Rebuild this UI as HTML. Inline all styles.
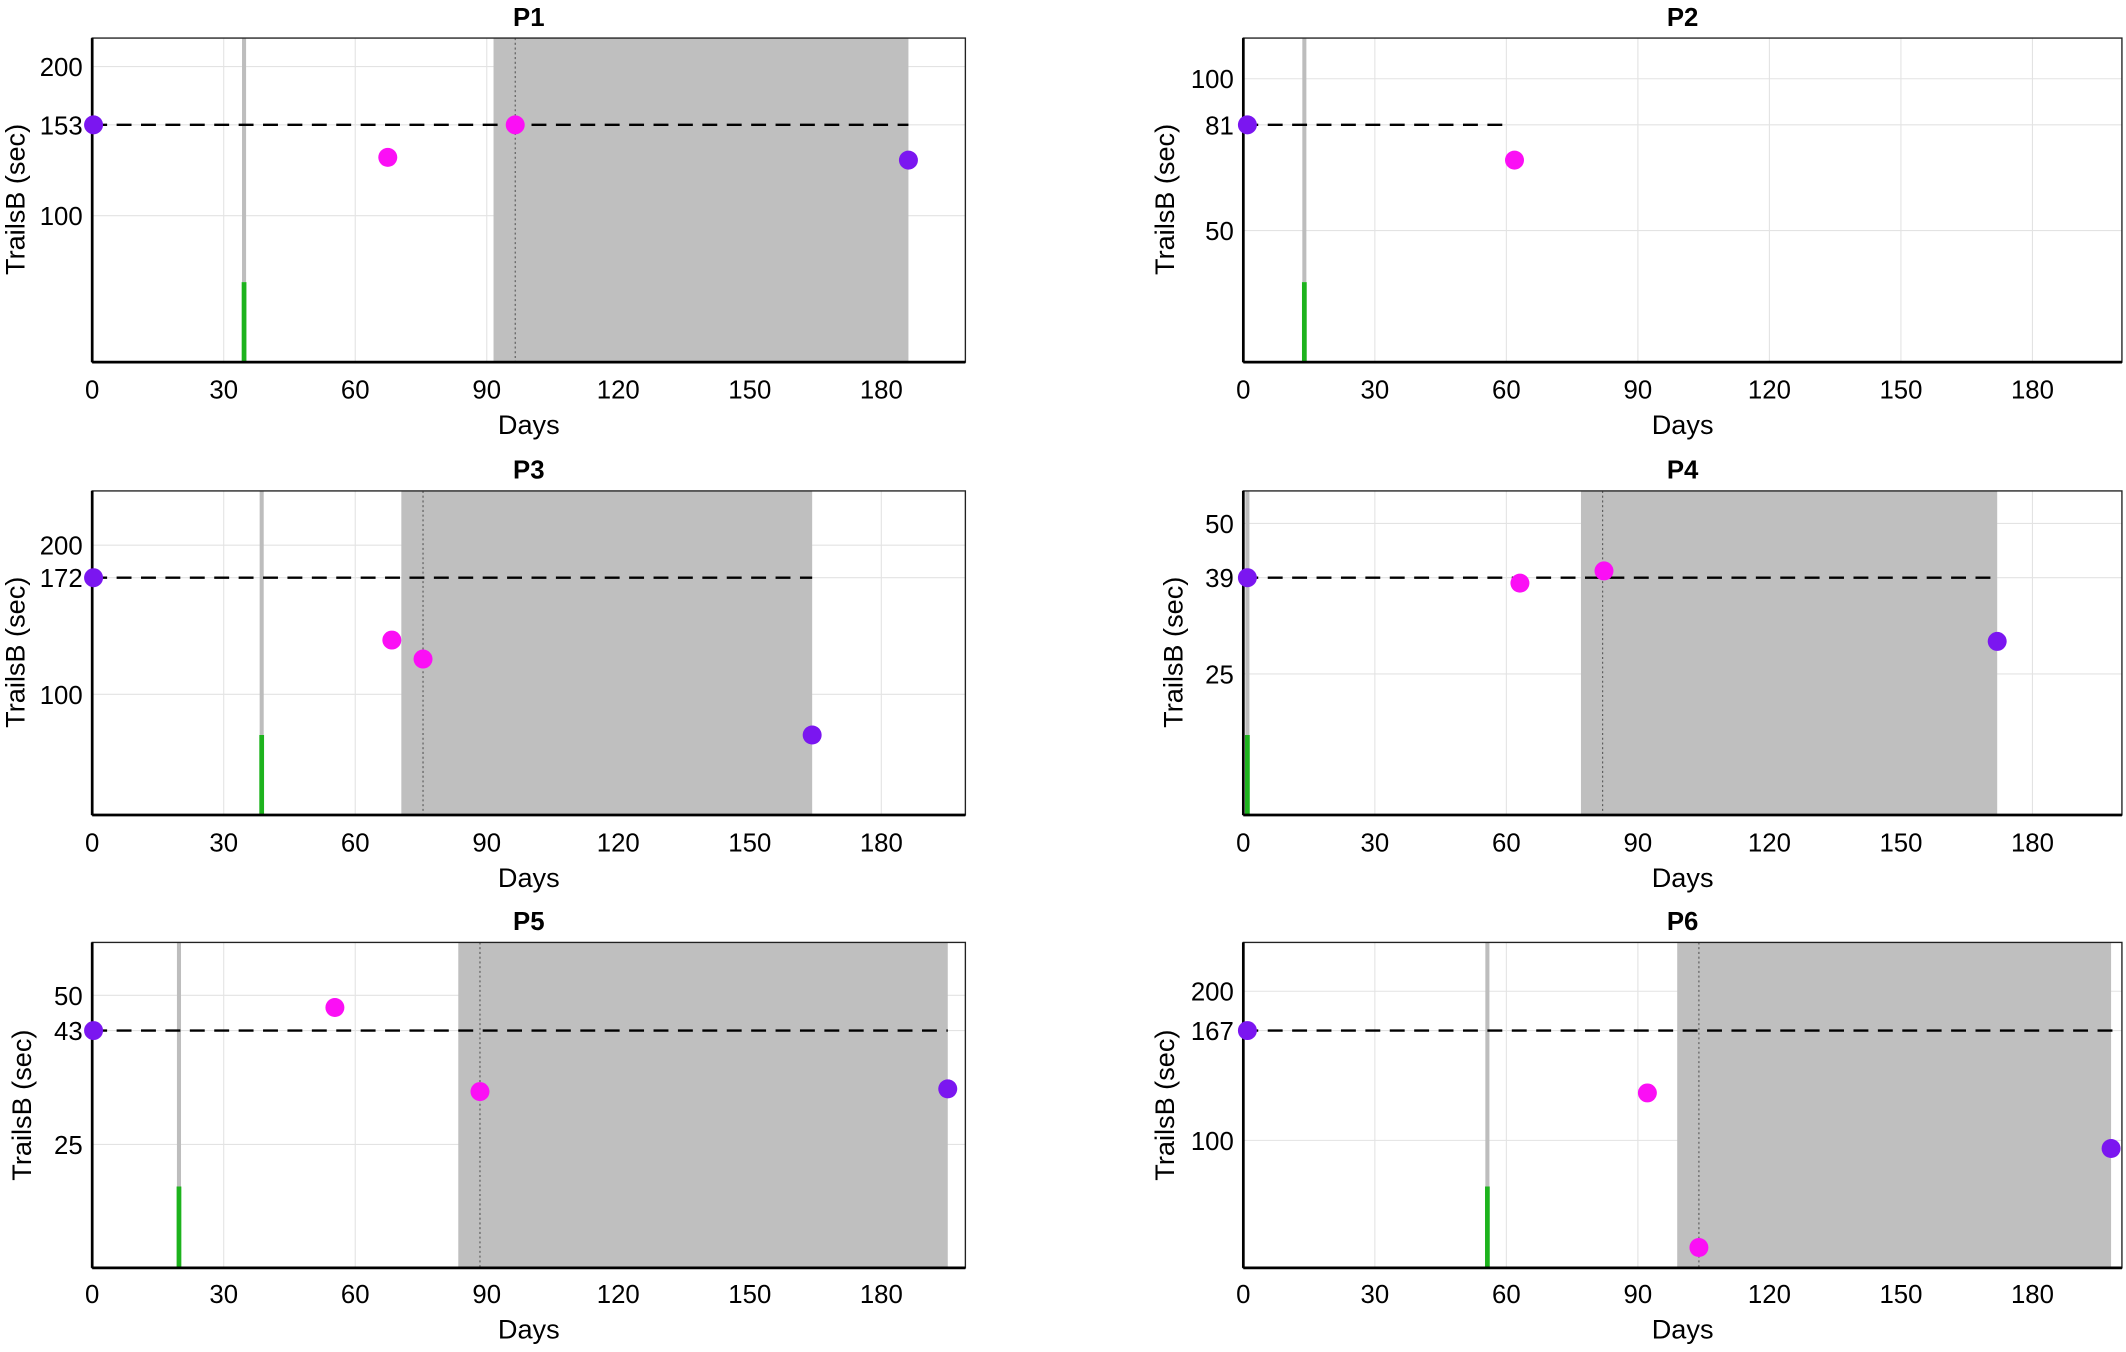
<!DOCTYPE html>
<html><head><meta charset="utf-8"><style>html,body{margin:0;padding:0;background:#fff}svg{display:block}</style></head>
<body>
<svg width="2126" height="1352" viewBox="0 0 1568 997" xmlns="http://www.w3.org/2000/svg" font-family="Liberation Sans, Arial, sans-serif">
<rect width="1568" height="997" fill="#fff"/>
<g stroke="#e3e3e3" stroke-width="0.8">
<path d="M165 28V267M262 28V267M359 28V267M456 28V267M553 28V267M650 28V267"/>
<path d="M165 362V601M262 362V601M359 362V601M456 362V601M553 362V601M650 362V601"/>
<path d="M165 695V935M262 695V935M359 695V935M456 695V935M553 695V935M650 695V935"/>
<path d="M1014 28V267M1111 28V267M1208 28V267M1305 28V267M1402 28V267M1499 28V267"/>
<path d="M1014 362V601M1111 362V601M1208 362V601M1305 362V601M1402 362V601M1499 362V601"/>
<path d="M1014 695V935M1111 695V935M1208 695V935M1305 695V935M1402 695V935M1499 695V935"/>
<path d="M68 49H712M68 92H712M68 159H712"/>
<path d="M917 58H1565M917 92H1565M917 170H1565"/>
<path d="M68 402H712M68 426H712M68 512H712"/>
<path d="M917 386H1565M917 426H1565M917 497H1565"/>
<path d="M68 734H712M68 760H712M68 844H712"/>
<path d="M917 731H1565M917 760H1565M917 841H1565"/>
</g>
<g fill="#bfbfbf">
<rect x="364" y="28" width="306" height="239"/>
<rect x="296" y="362" width="303" height="239"/>
<rect x="1166" y="362" width="307" height="239"/>
<rect x="338" y="695" width="361" height="240"/>
<rect x="1237" y="695" width="320" height="240"/>
</g>
<g stroke="#555" stroke-width="0.8" stroke-dasharray="1.5 2">
<path d="M380 28V267M312 362V601M1182 362V601M354 695V935M1253 695V935"/>
</g>
<g stroke="#bdbdbd" stroke-width="3">
<path d="M180 28V208M962 28V208M193 362V542M920 362V542M132 695V875M1097 695V875"/>
</g>
<g stroke="#1db31d" stroke-width="3.5">
<path d="M180 208V267M962 208V267M193 542V601M920 542V601M132 875V935M1097 875V935"/>
</g>
<g stroke="#000" stroke-width="1.8" stroke-dasharray="11 7">
<path d="M68 92H670M917 92H1113M68 426H599M917 426H1473M68 760H699M917 760H1565"/>
</g>
<g fill="none" stroke="#222" stroke-width="1">
<rect x="68" y="28" width="644" height="239"/>
<rect x="917" y="28" width="648" height="239"/>
<rect x="68" y="362" width="644" height="239"/>
<rect x="917" y="362" width="648" height="239"/>
<rect x="68" y="695" width="644" height="240"/>
<rect x="917" y="695" width="648" height="240"/>
</g>
<g stroke="#000" stroke-width="2">
<path d="M68 267H712M917 267H1565M68 601H712M917 601H1565M68 935H712M917 935H1565"/>
<path d="M68 28V267M917 28V267M68 362V601M917 362V601M68 695V935M917 695V935"/>
</g>
<g fill="#7b16f0">
<circle cx="69" cy="92" r="7"/><circle cx="670" cy="118" r="7"/>
<circle cx="920" cy="92" r="7"/>
<circle cx="69" cy="426" r="7"/><circle cx="599" cy="542" r="7"/>
<circle cx="920" cy="426" r="7"/><circle cx="1473" cy="473" r="7"/>
<circle cx="69" cy="760" r="7"/><circle cx="699" cy="803" r="7"/>
<circle cx="920" cy="760" r="7"/><circle cx="1557" cy="847" r="7"/>
</g>
<g fill="#fb0ff5">
<circle cx="286" cy="116" r="7"/><circle cx="380" cy="92" r="7"/>
<circle cx="1117" cy="118" r="7"/>
<circle cx="289" cy="472" r="7"/><circle cx="312" cy="486" r="7"/>
<circle cx="1121" cy="430" r="7"/><circle cx="1183" cy="421" r="7"/>
<circle cx="247" cy="743" r="7"/><circle cx="354" cy="805" r="7"/>
<circle cx="1215" cy="806" r="7"/><circle cx="1253" cy="920" r="7"/>
</g>
<g font-weight="bold" font-size="19" text-anchor="middle" fill="#000">
<text x="390" y="19">P1</text><text x="1241" y="19">P2</text>
<text x="390" y="353">P3</text><text x="1241" y="353">P4</text>
<text x="390" y="686">P5</text><text x="1241" y="686">P6</text>
</g>
<g font-size="19" text-anchor="middle" fill="#000">
<text x="68" y="294">0</text><text x="165" y="294">30</text><text x="262" y="294">60</text><text x="359" y="294">90</text><text x="456" y="294">120</text><text x="553" y="294">150</text><text x="650" y="294">180</text>
<text x="917" y="294">0</text><text x="1014" y="294">30</text><text x="1111" y="294">60</text><text x="1208" y="294">90</text><text x="1305" y="294">120</text><text x="1402" y="294">150</text><text x="1499" y="294">180</text>
<text x="68" y="628">0</text><text x="165" y="628">30</text><text x="262" y="628">60</text><text x="359" y="628">90</text><text x="456" y="628">120</text><text x="553" y="628">150</text><text x="650" y="628">180</text>
<text x="917" y="628">0</text><text x="1014" y="628">30</text><text x="1111" y="628">60</text><text x="1208" y="628">90</text><text x="1305" y="628">120</text><text x="1402" y="628">150</text><text x="1499" y="628">180</text>
<text x="68" y="961">0</text><text x="165" y="961">30</text><text x="262" y="961">60</text><text x="359" y="961">90</text><text x="456" y="961">120</text><text x="553" y="961">150</text><text x="650" y="961">180</text>
<text x="917" y="961">0</text><text x="1014" y="961">30</text><text x="1111" y="961">60</text><text x="1208" y="961">90</text><text x="1305" y="961">120</text><text x="1402" y="961">150</text><text x="1499" y="961">180</text>
</g>
<g font-size="20" text-anchor="middle" fill="#000">
<text x="390" y="320">Days</text><text x="1241" y="320">Days</text>
<text x="390" y="654">Days</text><text x="1241" y="654">Days</text>
<text x="390" y="987">Days</text><text x="1241" y="987">Days</text>
</g>
<g font-size="19" text-anchor="end" fill="#000">
<text x="61" y="56">200</text><text x="61" y="99">153</text><text x="61" y="166">100</text>
<text x="910" y="65">100</text><text x="910" y="99">81</text><text x="910" y="177">50</text>
<text x="61" y="409">200</text><text x="61" y="433">172</text><text x="61" y="519">100</text>
<text x="910" y="393">50</text><text x="910" y="433">39</text><text x="910" y="504">25</text>
<text x="61" y="741">50</text><text x="61" y="767">43</text><text x="61" y="851">25</text>
<text x="910" y="738">200</text><text x="910" y="767">167</text><text x="910" y="848">100</text>
</g>
<g font-size="20" text-anchor="middle" fill="#000">
<text transform="translate(18,147) rotate(-90)">TrailsB (sec)</text>
<text transform="translate(866,147) rotate(-90)">TrailsB (sec)</text>
<text transform="translate(18,481) rotate(-90)">TrailsB (sec)</text>
<text transform="translate(872,481) rotate(-90)">TrailsB (sec)</text>
<text transform="translate(23,815) rotate(-90)">TrailsB (sec)</text>
<text transform="translate(866,815) rotate(-90)">TrailsB (sec)</text>
</g>
</svg>
</body></html>
